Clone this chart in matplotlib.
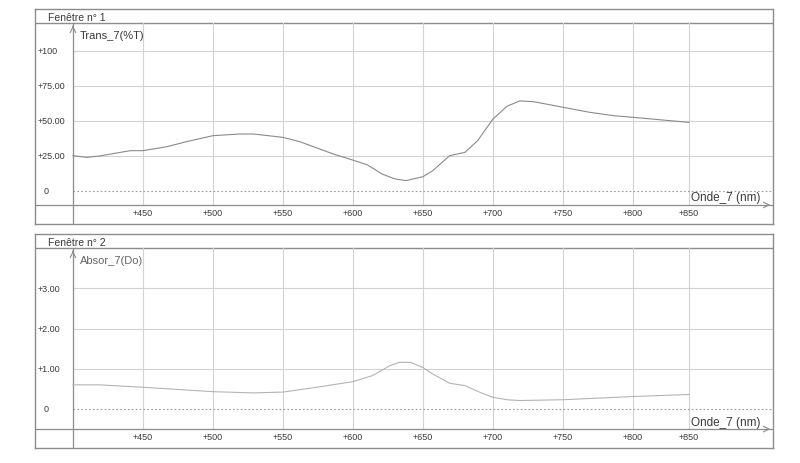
import numpy as np
import matplotlib.pyplot as plt

# wavelengths (nm)
onde_t = [400, 410, 419, 441, 450, 467, 481, 500, 519, 529, 550, 562, 586, 600,
          610, 621, 630, 638, 650, 657, 669, 680, 689, 700, 710, 719, 729, 750,
          769, 786, 800, 840]
trans = [25.2, 24.0, 25.0, 28.8, 28.8, 31.6, 35.2, 39.5, 40.7, 40.7, 38.3, 35.2,
         26.4, 22.0, 18.8, 12.0, 8.6, 7.4, 10.2, 14.5, 25.2, 27.6, 35.9, 51.4,
         60.5, 64.3, 63.8, 59.8, 56.2, 53.8, 52.6, 49.0]

onde_a = [400, 419, 450, 500, 529, 550, 574, 600, 614, 626, 633, 641, 650, 657,
          669, 680, 691, 700, 710, 719, 750, 800, 840]
absor = [0.60, 0.60, 0.54, 0.43, 0.40, 0.42, 0.54, 0.68, 0.83, 1.07, 1.16, 1.16,
         1.03, 0.87, 0.64, 0.58, 0.41, 0.29, 0.23, 0.21, 0.23, 0.31, 0.36]

x_ticks = [450, 500, 550, 600, 650, 700, 750, 800, 840]
x_labels = ['+450', '+500', '+550', '+600', '+650', '+700', '+750', '+800', '+850']

t_ticks = [25, 50, 75, 100]
t_labels = ['+25.00', '+50.00', '+75.00', '+100']
a_ticks = [1, 2, 3]
a_labels = ['+1.00', '+2.00', '+3.00']

plt.rcParams['font.family'] = ['Liberation Sans', 'DejaVu Sans']

W, H = 800, 464
def box(x0, y0, x1, y1):
    return [x0 / W, 1 - y1 / H, (x1 - x0) / W, (y1 - y0) / H]

GRID = '#d2d2d2'
EDGE = '#8c8c8c'
TXT = '#3a3a3a'
XMIN, XMAX = 372.9, 900


def draw_panel(ax, x, y, yticks, ylabels, ytop, ybot_axis, ymin, ymax, title, name, col, name_col):
    ax.set_xlim(XMIN, XMAX)
    ax.set_ylim(ymin, ymax)
    ax.set_xticks([])
    ax.set_yticks([])
    for s in ax.spines.values():
        s.set_color(EDGE)
        s.set_linewidth(1.0)
    ax.set_facecolor('white')
    # header strip
    ax.axhline(ytop, color=EDGE, lw=1.0)
    hdr = ytop + (ymax - ytop) * 0.45
    ax.text(382, hdr, title, fontsize=7.5, color=TXT, va='center', ha='left')
    # grid
    for xt in x_ticks:
        ax.plot([xt, xt], [ybot_axis, ytop], color=GRID, lw=0.8)
    for yt in yticks:
        ax.plot([400, XMAX], [yt, yt], color=GRID, lw=0.8)
    ax.plot([400, XMAX], [0, 0], color='#9a9a9a', lw=0.8, ls=(0, (1.5, 2)))
    # axes lines
    ax.plot([XMIN, XMAX], [ybot_axis, ybot_axis], color=EDGE, lw=0.9)
    ax.plot([400, 400], [ymin, ytop], color=EDGE, lw=0.9)
    span = ymax - ymin
    ax.annotate('', xy=(400, ytop), xytext=(400, ytop - span * 0.03),
                arrowprops=dict(arrowstyle='->', color=EDGE, lw=0.8))
    ax.annotate('', xy=(XMAX, ybot_axis), xytext=(XMAX - 6, ybot_axis),
                arrowprops=dict(arrowstyle='->', color=EDGE, lw=0.8))
    # tick labels
    ylab = ybot_axis - span * 0.033
    for xt, lb in zip(x_ticks, x_labels):
        ax.text(xt, ylab, lb, fontsize=6.5, color=TXT, ha='center', va='center')
    for yt, lb in zip(yticks, ylabels):
        ax.text(374.5, yt, lb, fontsize=6.5, color=TXT, ha='left', va='center')
    ax.text(381, 0, '0', fontsize=6.5, color=TXT, ha='center', va='center')
    # names
    ax.text(405, ytop - span * 0.055, name, fontsize=8, color=name_col,
            ha='left', va='center')
    ax.text(891, ybot_axis + span * 0.035, 'Onde_7 (nm)', fontsize=8.5, color=TXT,
            ha='right', va='center')
    # curve
    ax.plot(x, y, color=col, lw=0.8)


fig = plt.figure(figsize=(8, 4.64), dpi=100)
fig.patch.set_facecolor('white')

ax1 = fig.add_axes(box(35, 10, 773, 225))
draw_panel(ax1, onde_t, trans, t_ticks, t_labels, 120, -10, -23.6, 130,
           'Fenêtre n° 1', 'Trans_7(%T)', '#8a8a8a', TXT)

ax2 = fig.add_axes(box(35, 235, 773, 449))
draw_panel(ax2, onde_a, absor, a_ticks, a_labels, 4.0, -0.5, -0.97, 4.35,
           'Fenêtre n° 2', 'Absor_7(Do)', '#b4b4b4', '#666666')

fig.savefig('out.png', dpi=100)
